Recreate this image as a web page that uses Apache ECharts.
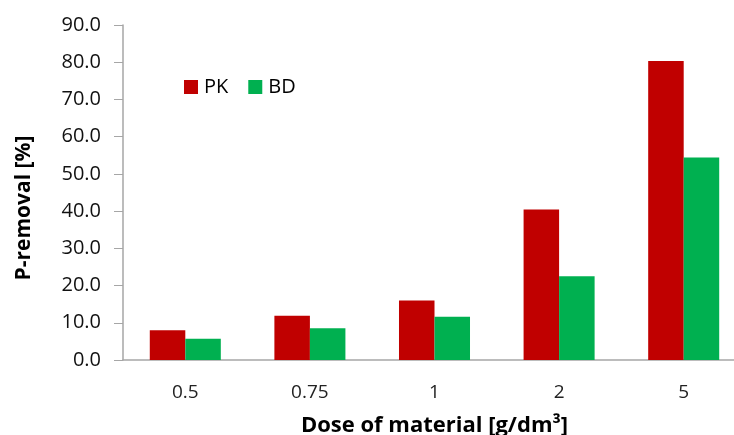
<!DOCTYPE html>
<html>
<head>
<meta charset="utf-8">
<script src="https://cdn.jsdelivr.net/npm/echarts@6/dist/echarts.min.js"></script>
<style>
html,body{margin:0;padding:0;background:#fff;}
#chart{width:734px;height:435px;}
</style>
</head>
<body>
<div id="chart"></div>
<script>
const categories = ["0.5", "0.75", "1", "2", "5"];
const pkValues = [8.0, 11.9, 16.0, 40.4, 80.3];
const bdValues = [5.7, 8.5, 11.6, 22.5, 54.4];
const seriesNames = ["PK", "BD"];
const yTitle = "P-removal [%]";
const xTitle = "Dose of material [g/dm³]";

const FONT = "Open Sans";
const chart = echarts.init(document.getElementById('chart'), null, {renderer: 'canvas'});
chart.setOption({
  animation: false,
  backgroundColor: '#ffffff',
  textStyle: {fontFamily: FONT},
  grid: {left: 123, top: 25, right: -12, bottom: 75, containLabel: false, outerBoundsMode: 'none'},
  legend: {
    left: 179, top: 72,
    itemWidth: 14, itemHeight: 14, itemGap: 20,
    icon: 'rect',
    textStyle: {fontFamily: FONT, fontSize: 20, color: '#000', padding: [0,0,0,1]},
    data: seriesNames
  },
  graphic: [{
    type: 'text',
    rotation: Math.PI / 2,
    style: {text: yTitle, font: 'bold 21px "Open Sans"', fill: '#000',
            textAlign: 'center', textVerticalAlign: 'middle'},
    x: 24, y: 208
  }],
  xAxis: {
    type: 'category',
    data: categories,
    name: xTitle,
    nameLocation: 'middle',
    nameGap: 55,
    nameTextStyle: {fontFamily: FONT, fontSize: 22, fontWeight: 'bold', color: '#000'},
    axisLine: {lineStyle: {color: '#a6a6a6', width: 1.5}},
    axisTick: {show: false},
    axisLabel: {fontFamily: FONT, fontSize: 19, color: '#222', margin: 23}
  },
  yAxis: {
    type: 'value',
    min: 0, max: 90, interval: 10,
    axisLine: {show: true, lineStyle: {color: '#a6a6a6', width: 1.5}},
    axisTick: {show: true, length: 9, lineStyle: {color: '#a6a6a6'}},
    splitLine: {show: false},
    axisLabel: {fontFamily: FONT, fontSize: 20, color: '#111', margin: 22,
      formatter: v => v.toFixed(1)}
  },
  series: [
    {name: seriesNames[0], type: 'bar', data: pkValues, itemStyle: {color: '#c00000'},
     barGap: '0%', barCategoryGap: '43%'},
    {name: seriesNames[1], type: 'bar', data: bdValues, itemStyle: {color: '#00b050'},
     barGap: '0%', barCategoryGap: '43%'}
  ]
});
</script>
</body>
</html>
